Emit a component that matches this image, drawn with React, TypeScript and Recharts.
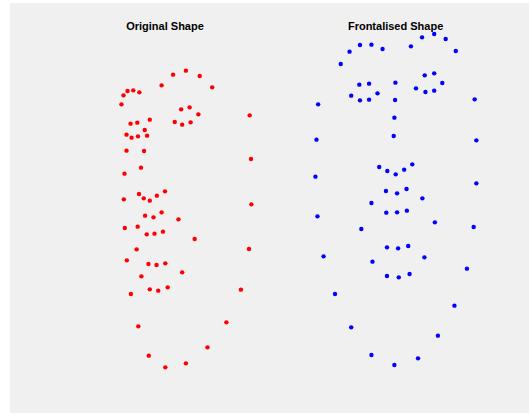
import React from "react";
import { ScatterChart, Scatter, XAxis, YAxis } from "recharts";

// Landmark positions in image units (x: 0..1568, y: 0..1242, y grows downward)
const originalX = [360, 366, 378, 395, 413, 479, 513, 551, 592, 629, 537, 562, 588, 518, 540, 565, 740, 387, 407, 444, 429, 375, 390, 409, 436, 375, 427, 369, 418, 744, 367, 412, 426, 444, 465, 489, 745, 430, 455, 479, 529, 370, 408, 435, 458, 483, 577, 738, 405, 376, 440, 464, 490, 540, 419, 388, 444, 469, 497, 714, 671, 410, 615, 441, 551, 490];
const originalY = [313, 286, 273, 271, 277, 256, 224, 212, 228, 262, 328, 322, 343, 366, 374, 367, 346, 371, 368, 359, 390, 404, 413, 409, 407, 452, 453, 521, 503, 477, 598, 582, 595, 602, 587, 574, 613, 647, 652, 637, 658, 684, 680, 703, 701, 695, 717, 747, 748, 781, 792, 795, 790, 817, 829, 882, 868, 872, 862, 869, 967, 979, 1042, 1067, 1090, 1102];

const frontalX = [1010, 1036, 1067, 1101, 1134, 1218, 1251, 1287, 1321, 1351, 943, 1065, 1094, 1119, 1041, 1067, 1094, 1172, 1171, 1169, 1167, 1233, 1259, 1287, 1311, 1261, 1287, 1407, 938, 1412, 935, 1124, 1148, 1173, 1198, 1222, 1412, 1144, 1177, 1205, 1101, 1252, 1145, 1177, 1206, 941, 1071, 1289, 1404, 1147, 1180, 1210, 959, 1104, 1258, 1384, 1147, 1182, 1214, 993, 1347, 1041, 1298, 1101, 1239, 1169];
const frontalY = [192, 155, 135, 134, 147, 139, 112, 102, 117, 153, 313, 254, 251, 280, 287, 301, 299, 248, 300, 353, 408, 265, 226, 220, 249, 276, 272, 298, 419, 421, 530, 501, 513, 523, 509, 493, 550, 573, 580, 567, 609, 595, 638, 637, 632, 649, 687, 667, 681, 742, 745, 738, 769, 785, 772, 806, 828, 832, 822, 882, 917, 982, 1007, 1065, 1075, 1095];

const titles = ["Original Shape", "Frontalised Shape"];

const originalData = originalX.map((x, i) => ({ x, y: originalY[i] }));
const frontalData = frontalX.map((x, i) => ({ x, y: frontalY[i] }));

const dot = (color: string) => (props: any) => (
  <circle cx={props.cx} cy={props.cy} r={2.2} fill={color} />
);

export default function App() {
  return (
    <div style={{ position: "fixed", left: 0, top: 0, width: 529, height: 414, background: "#ffffff" }}>
      <div style={{ position: "absolute", left: 10, top: 3, width: 519, height: 410, background: "#f0f0f0" }} />
      <div style={{ position: "absolute", left: 0, top: 0 }}>
        <ScatterChart width={529} height={414} margin={{ top: 0, right: 0, bottom: 0, left: 0 }}>
          <XAxis type="number" dataKey="x" domain={[0, 1568]} hide />
          <YAxis type="number" dataKey="y" domain={[0, 1242]} reversed hide />
          <Scatter data={originalData} fill="#ff0000" shape={dot("#ff0000")} isAnimationActive={false} />
          <Scatter data={frontalData} fill="#0000ff" shape={dot("#0000ff")} isAnimationActive={false} />
        </ScatterChart>
      </div>
      <svg width={529} height={414} style={{ position: "absolute", left: 0, top: 0, pointerEvents: "none" }}>
        <text x={165} y={30} textAnchor="middle" fontFamily="'Liberation Sans', Arial, sans-serif" fontWeight="bold" fontSize={11} fill="#000">
          {titles[0]}
        </text>
        <text x={395.6} y={30} textAnchor="middle" fontFamily="'Liberation Sans', Arial, sans-serif" fontWeight="bold" fontSize={11} fill="#000">
          {titles[1]}
        </text>
      </svg>
    </div>
  );
}
